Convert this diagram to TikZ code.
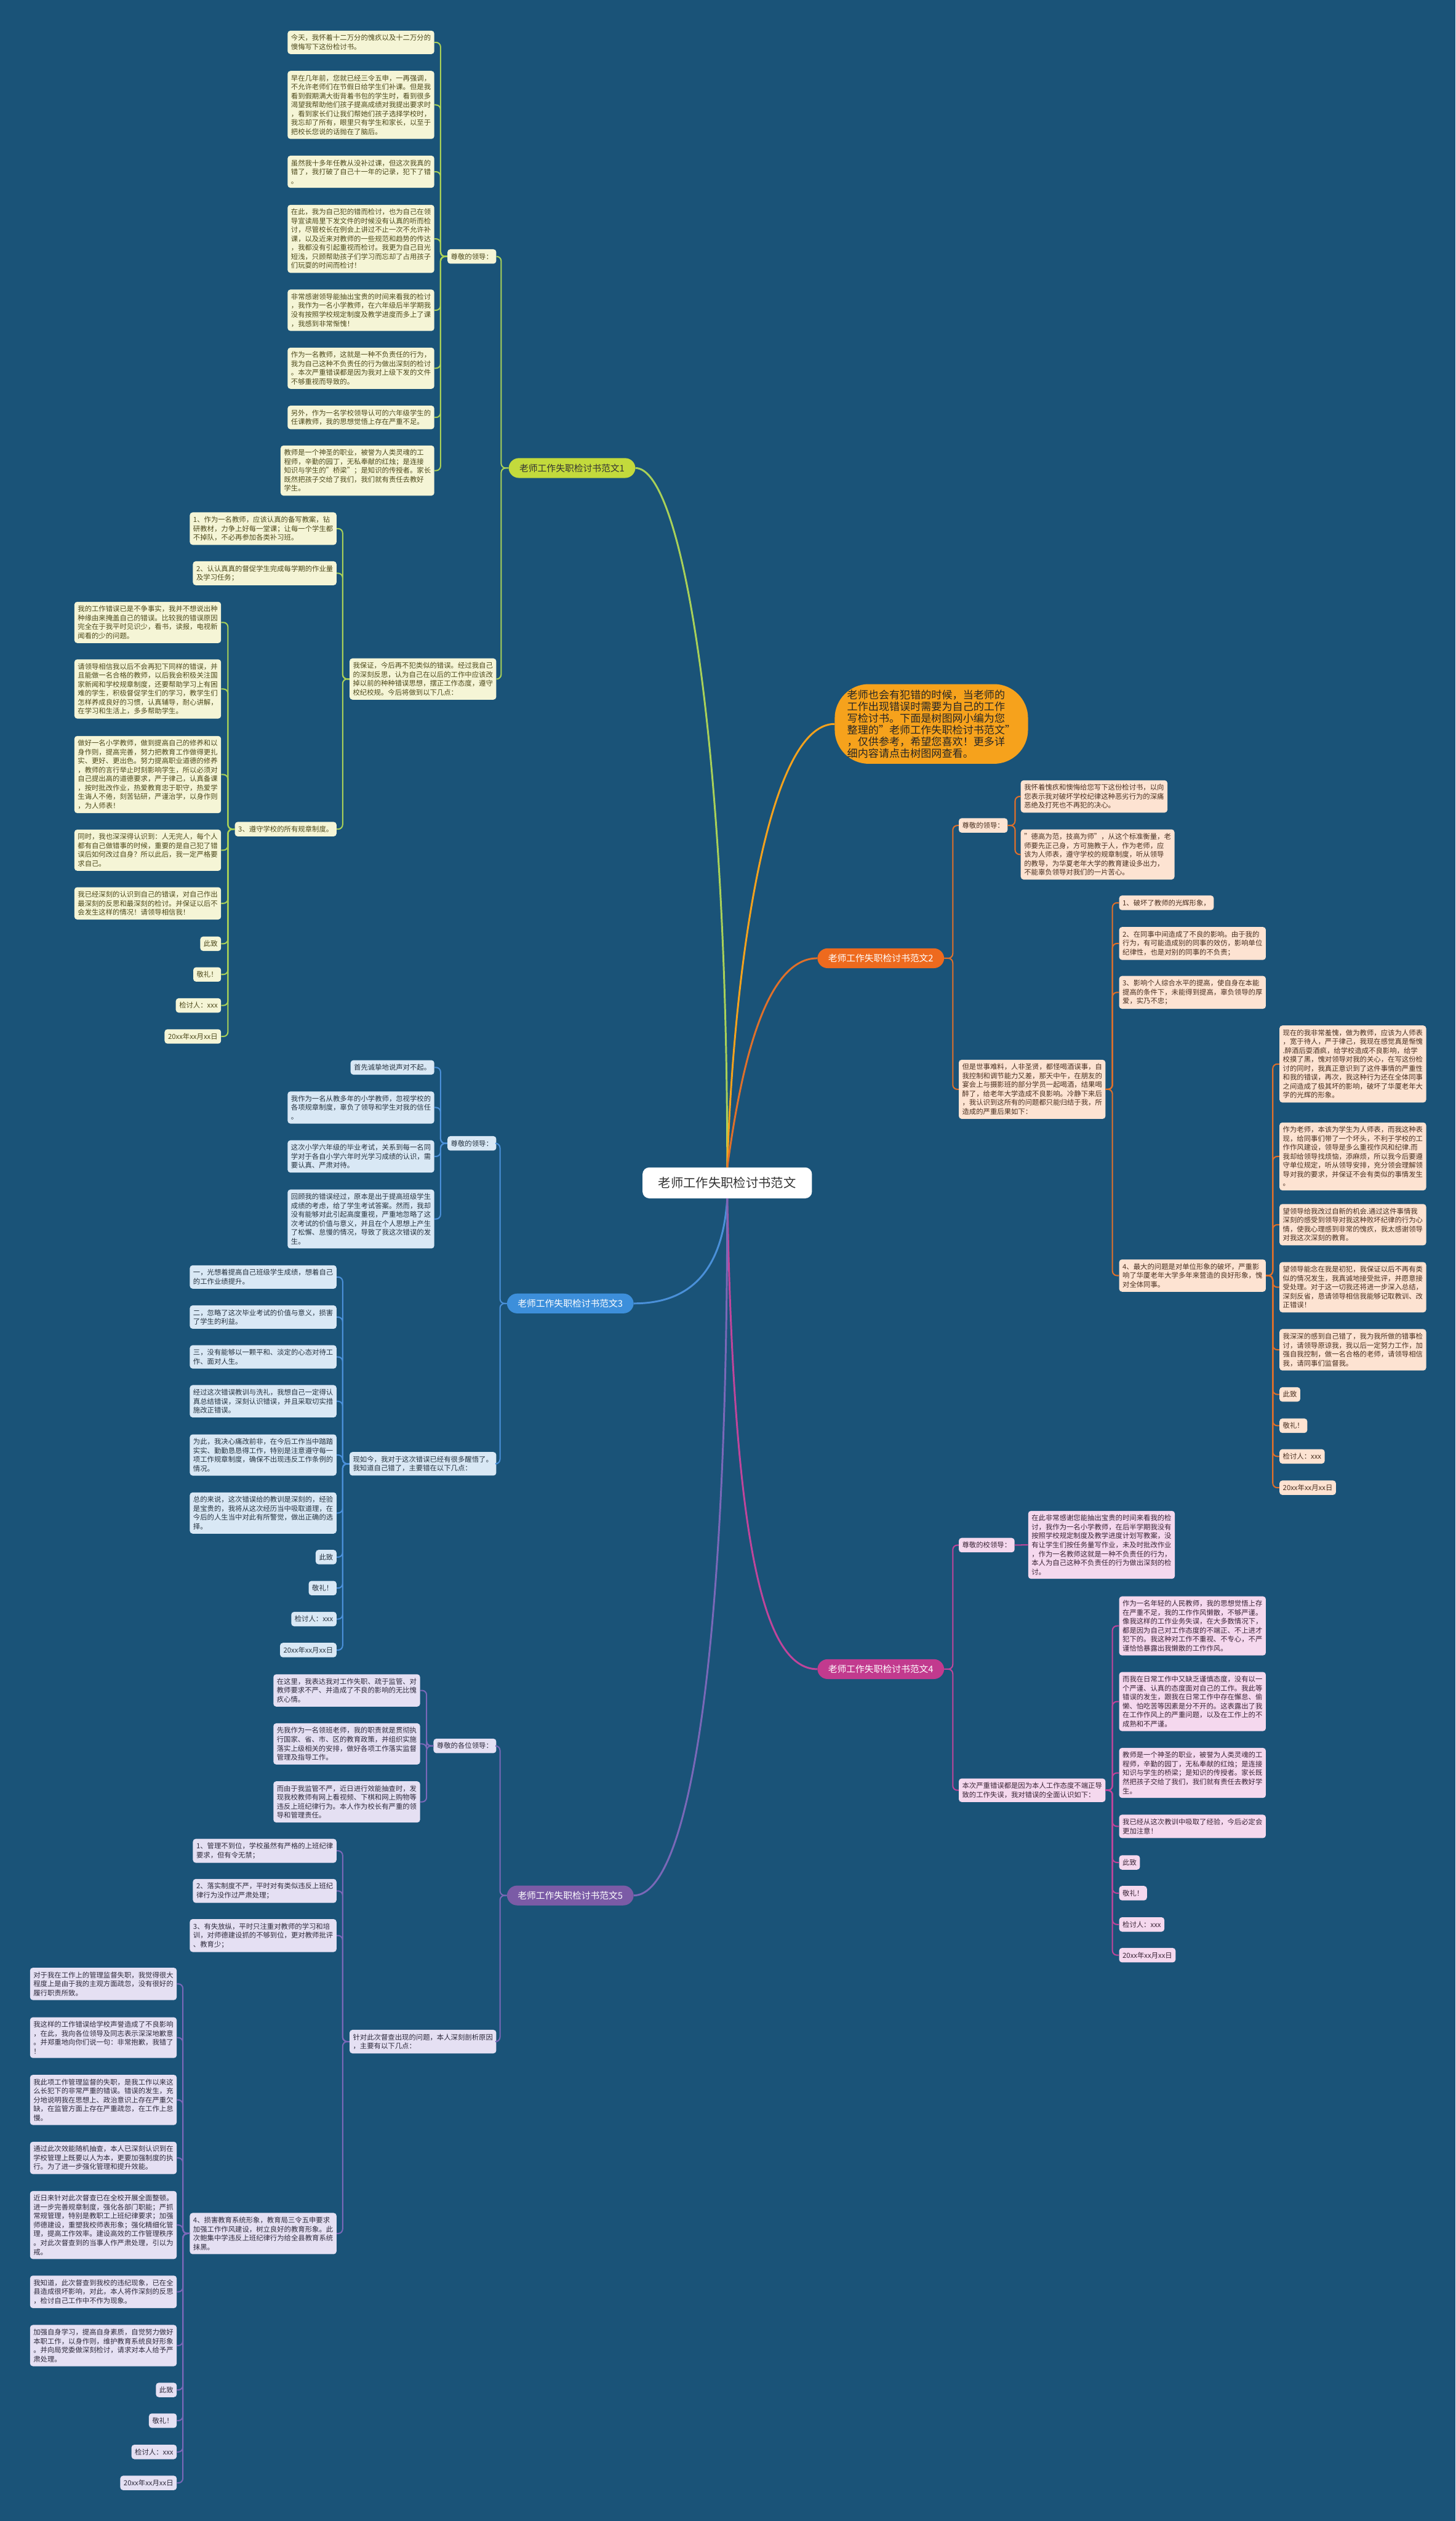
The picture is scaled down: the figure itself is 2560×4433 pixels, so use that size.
\documentclass[tikz,border=0pt]{standalone}
\usepackage{fontspec}
\setmainfont{Noto Sans CJK SC}
\usetikzlibrary{positioning}

\definecolor{bgblue}{HTML}{1A5378}
\definecolor{creamA}{HTML}{F5F5D6}
\definecolor{textA}{HTML}{4E4A1C}
\definecolor{lineA}{HTML}{A9D158}
\definecolor{tagA}{HTML}{C3DA3C}
\definecolor{paleB}{HTML}{FDE3D2}
\definecolor{textB}{HTML}{4A3020}
\definecolor{lineB}{HTML}{E0702A}
\definecolor{tagB}{HTML}{EE6A1E}
\definecolor{paleC}{HTML}{D9E8F5}
\definecolor{textC}{HTML}{263340}
\definecolor{lineC}{HTML}{4A90D9}
\definecolor{tagC}{HTML}{3D8FDB}
\definecolor{paleD}{HTML}{F5D8EE}
\definecolor{textD}{HTML}{3A2436}
\definecolor{lineD}{HTML}{C0459B}
\definecolor{tagD}{HTML}{C23A8E}
\definecolor{paleE}{HTML}{E5E0F3}
\definecolor{textE}{HTML}{2E2A3C}
\definecolor{lineE}{HTML}{7A68B8}
\definecolor{tagE}{HTML}{7B5BA6}
\definecolor{bubble}{HTML}{F6A21C}

\newcommand\leaffont{\fontsize{12.3}{15.7}\selectfont}

\tikzset{
  leaf/.style={rounded corners=5pt, align=left, inner xsep=6pt, inner ysep=7pt, font=\leaffont},
  leafA/.style={leaf, fill=creamA, text=textA},
  leafB/.style={leaf, fill=paleB, text=textB},
  leafC/.style={leaf, fill=paleC, text=textC},
  leafD/.style={leaf, fill=paleD, text=textD},
  leafE/.style={leaf, fill=paleE, text=textE},
  tag/.style={rounded corners=18pt, inner xsep=19pt, inner ysep=10pt, font=\fontsize{16}{18}\selectfont, text=white},
  wire/.style={line width=2.2pt, rounded corners=8pt},
  trunk/.style={line width=3.2pt},
}

\begin{document}
\begin{tikzpicture}[x=1pt,y=-1pt]
\fill[bgblue] (0,0) rectangle (2560,4433);
\useasboundingbox (0,0) rectangle (2560,4433);

% centre and intro
\node[fill=white, rounded corners=12pt, inner xsep=28pt, inner ysep=17pt, font=\fontsize{22}{24}\selectfont, text=black!80] (ctr) at (1279,2080) {老师工作失职检讨书范文};
\node[fill=bubble, rounded corners=60pt, align=left, inner xsep=22pt, inner ysep=10pt, font=\fontsize{18.5}{20.6}\selectfont, text=black!85] (bub) at (1638,1273) {老师也会有犯错的时候，当老师的\\工作出现错误时需要为自己的工作\\写检讨书。下面是树图网小编为您\\整理的"老师工作失职检讨书范文"\\，仅供参考，希望您喜欢！更多详\\细内容请点击树图网查看。};

% branch tags
\node[tag, fill=tagA, text=black!80] (b1) at (1006,823) {老师工作失职检讨书范文1};
\node[tag, fill=tagB] (b2) at (1549,1685) {老师工作失职检讨书范文2};
\node[tag, fill=tagC] (b3) at (1003,2292) {老师工作失职检讨书范文3};
\node[tag, fill=tagD] (b4) at (1549,2935) {老师工作失职检讨书范文4};
\node[tag, fill=tagE] (b5) at (1003,3333) {老师工作失职检讨书范文5};

\draw[trunk, lineA] (ctr.north) .. controls (1279,1300) and (1200,823) .. (b1.east);
\draw[trunk, bubble] (ctr.north) .. controls (1290,1700) and (1350,1273) .. (bub.west);
\draw[trunk, lineB] (ctr.north) .. controls (1300,1900) and (1340,1685) .. (b2.west);
\draw[trunk, lineC] (ctr.south) .. controls (1270,2250) and (1200,2292) .. (b3.east);
\draw[trunk, lineD] (ctr.south) .. controls (1290,2700) and (1340,2935) .. (b4.west);
\draw[trunk, lineE] (ctr.south) .. controls (1279,3000) and (1200,3333) .. (b5.east);

% branch 1
\node[leafA, anchor=east] (b1a) at (873,451) {尊敬的领导：};
\node[leafA, anchor=east] (b1a1) at (764,74.5) {今天，我怀着十二万分的愧疚以及十二万分的\\懊悔写下这份检讨书。};
\node[leafA, anchor=east] (b1a2) at (764,184.5) {早在几年前，您就已经三令五申，一再强调，\\不允许老师们在节假日给学生们补课。但是我\\看到假期满大街背着书包的学生时，看到很多\\渴望我帮助他们孩子提高成绩对我提出要求时\\，看到家长们让我们帮她们孩子选择学校时，\\我忘却了所有，眼里只有学生和家长，以至于\\把校长您说的话抛在了脑后。};
\node[leafA, anchor=east] (b1a3) at (764,302) {虽然我十多年任教从没补过课，但这次我真的\\错了，我打破了自己十一年的记录，犯下了错\\。};
\node[leafA, anchor=east] (b1a4) at (764,420) {在此，我为自己犯的错而检讨，也为自己在领\\导宣读局里下发文件的时候没有认真的听而检\\讨，尽管校长在例会上讲过不止一次不允许补\\课，以及近来对教师的一些规范和趋势的传达\\，我都没有引起重视而检讨。我更为自己目光\\短浅，只顾帮助孩子们学习而忘却了占用孩子\\们玩耍的时间而检讨！};
\node[leafA, anchor=east] (b1a5) at (764,545.5) {非常感谢领导能抽出宝贵的时间来看我的检讨\\，我作为一名小学教师，在六年级后半学期我\\没有按照学校规定制度及教学进度而多上了课\\，我感到非常惭愧！};
\node[leafA, anchor=east] (b1a6) at (764,647.5) {作为一名教师，这就是一种不负责任的行为，\\我为自己这种不负责任的行为做出深刻的检讨\\。本次严重错误都是因为我对上级下发的文件\\不够重视而导致的。};
\node[leafA, anchor=east] (b1a7) at (764,734) {另外，作为一名学校领导认可的六年级学生的\\任课教师，我的思想觉悟上存在严重不足。};
\node[leafA, anchor=east] (b1a8) at (764,827.5) {教师是一个神圣的职业，被誉为人类灵魂的工\\程师，辛勤的园丁，无私奉献的红烛；是连接\\知识与学生的"桥梁"；是知识的传授者。家长\\既然把孩子交给了我们，我们就有责任去教好\\学生。};
\node[leafA, anchor=east] (b1b) at (873,1194) {我保证，今后再不犯类似的错误。经过我自己\\的深刻反思，认为自己在以后的工作中应该改\\掉以前的种种错误思想，摆正工作态度，遵守\\校纪校规。今后将做到以下几点：};
\node[leafA, anchor=east] (b1b1) at (592,929.5) {1、作为一名教师，应该认真的备写教案，钻\\研教材，力争上好每一堂课；让每一个学生都\\不掉队，不必再参加各类补习班。};
\node[leafA, anchor=east] (b1b2) at (592,1008) {2、认认真真的督促学生完成每学期的作业量\\及学习任务；};
\node[leafA, anchor=east] (b1b3) at (592,1458) {3、遵守学校的所有规章制度。};
\node[leafA, anchor=east] (b1c1) at (389,1094.5) {我的工作错误已是不争事实，我并不想说出种\\种缘由来掩盖自己的错误。比较我的错误原因\\完全在于我平时见识少，看书，读报，电视新\\闻看的少的问题。};
\node[leafA, anchor=east] (b1c2) at (389,1211.5) {请领导相信我以后不会再犯下同样的错误，并\\且能做一名合格的教师，以后我会积极关注国\\家新闻和学校规章制度，还要帮助学习上有困\\难的学生，积极督促学生们的学习，教学生们\\怎样养成良好的习惯，认真辅导，耐心讲解，\\在学习和生活上，多多帮助学生。};
\node[leafA, anchor=east] (b1c3) at (389,1362) {做好一名小学教师，做到提高自己的修养和以\\身作则，提高完善，努力把教育工作做得更扎\\实、更好、更出色。努力提高职业道德的修养\\，教师的言行举止时刻影响学生，所以必须对\\自己提出高的道德要求，严于律己，认真备课\\，按时批改作业，热爱教育忠于职守，热爱学\\生诲人不倦，刻苦钻研，严谨治学，以身作则\\，为人师表！};
\node[leafA, anchor=east] (b1c4) at (389,1495) {同时，我也深深得认识到：人无完人，每个人\\都有自己做错事的时候，重要的是自己犯了错\\误后如何改过自身？所以此后，我一定严格要\\求自己。};
\node[leafA, anchor=east] (b1c5) at (389,1588.5) {我已经深刻的认识到自己的错误，对自己作出\\最深刻的反思和最深刻的检讨。并保证以后不\\会发生这样的情况！请领导相信我！};
\node[leafA, anchor=east] (b1c6) at (389,1659.5) {此致};
\node[leafA, anchor=east] (b1c7) at (389,1713.5) {敬礼！};
\node[leafA, anchor=east] (b1c8) at (389,1768) {检讨人：xxx};
\node[leafA, anchor=east] (b1c9) at (389,1822.5) {20xx年xx月xx日};

\foreach \c in {b1a,b1b} \draw[wire, lineA] (b1.west) -- ++(-13,0) |- (\c.east);
\foreach \c in {b1a1,b1a2,b1a3,b1a4,b1a5,b1a6,b1a7,b1a8} \draw[wire, lineA] (b1a.west) -- ++(-12,0) |- (\c.east);
\foreach \c in {b1b1,b1b2,b1b3} \draw[wire, lineA] (b1b.west) -- ++(-12,0) |- (\c.east);
\foreach \c in {b1c1,b1c2,b1c3,b1c4,b1c5,b1c6,b1c7,b1c8,b1c9} \draw[wire, lineA] (b1b3.west) -- ++(-12,0) |- (\c.east);

% branch 2
\node[leafB, anchor=west] (b2a) at (1686,1451.5) {尊敬的领导：};
\node[leafB, anchor=west] (b2a1) at (1795,1400.5) {我怀着愧疚和懊悔给您写下这份检讨书，以向\\您表示我对破坏学校纪律这种恶劣行为的深痛\\恶绝及打死也不再犯的决心。};
\node[leafB, anchor=west] (b2a2) at (1795,1502.5) {"德高为范，技高为师"，从这个标准衡量，老\\师要先正己身，方可施教于人，作为老师，应\\该为人师表，遵守学校的规章制度，听从领导\\的教导，为华夏老年大学的教育建设多出力，\\不能辜负领导对我们的一片苦心。};
\node[leafB, anchor=west] (b2b) at (1686,1915.5) {但是世事难料，人非圣贤，都怪喝酒误事，自\\我控制和调节能力又差，那天中午，在朋友的\\宴会上与摄影班的部分学员一起喝酒，结果喝\\醉了，给老年大学造成不良影响。冷静下来后\\，我认识到这所有的问题都只能归结于我，所\\造成的严重后果如下：};
\node[leafB, anchor=west] (b2b1) at (1968,1587.5) {1、破坏了教师的光辉形象，};
\node[leafB, anchor=west] (b2b2) at (1968,1659) {2、在同事中间造成了不良的影响。由于我的\\行为，有可能造成别的同事的效仿，影响单位\\纪律性，也是对别的同事的不负责；};
\node[leafB, anchor=west] (b2b3) at (1968,1745) {3、影响个人综合水平的提高，使自身在本能\\提高的条件下，未能得到提高，辜负领导的厚\\爱，实乃不忠；};
\node[leafB, anchor=west] (b2b4) at (1968,2243) {4、最大的问题是对单位形象的破坏，严重影\\响了华厦老年大学多年来营造的良好形象，愧\\对全体同事。};
\node[leafB, anchor=west] (b2c1) at (2250,1871) {现在的我非常羞愧，做为教师，应该为人师表\\，宽于待人，严于律己，我现在感觉真是惭愧\\.醉酒后耍酒疯，给学校造成不良影响，给学\\校摸了黑，愧对领导对我的关心，在写这份检\\讨的同时，我真正意识到了这件事情的严重性\\和我的错误，再次，我这种行为还在全体同事\\之间造成了极其坏的影响，破坏了华厦老年大\\学的光辉的形象。};
\node[leafB, anchor=west] (b2c2) at (2250,2033.5) {作为老师，本该为学生为人师表，而我这种表\\现，给同事们带了一个坏头，不利于学校的工\\作作风建设，领导是多么重视作风和纪律.而\\我却给领导找烦恼，添麻烦，所以我今后要遵\\守单位规定，听从领导安排，充分领会理解领\\导对我的要求，并保证不会有类似的事情发生\\。};
\node[leafB, anchor=west] (b2c3) at (2250,2153.5) {望领导给我改过自新的机会.通过这件事情我\\深刻的感受到领导对我这种败坏纪律的行为心\\情，使我心理感到非常的愧疚，我太感谢领导\\对我这次深刻的教育。};
\node[leafB, anchor=west] (b2c4) at (2250,2263.5) {望领导能念在我是初犯，我保证以后不再有类\\似的情况发生，我真诚地接受批评，并愿意接\\受处理。对于这一切我还将进一步深入总结，\\深刻反省，恳请领导相信我能够记取教训、改\\正错误！};
\node[leafB, anchor=west] (b2c5) at (2250,2373.5) {我深深的感到自己错了，我为我所做的错事检\\讨，请领导原谅我，我以后一定努力工作，加\\强自我控制，做一名合格的老师，请领导相信\\我，请同事们监督我。};
\node[leafB, anchor=west] (b2c6) at (2250,2452) {此致};
\node[leafB, anchor=west] (b2c7) at (2250,2507) {敬礼！};
\node[leafB, anchor=west] (b2c8) at (2250,2561) {检讨人：xxx};
\node[leafB, anchor=west] (b2c9) at (2250,2616) {20xx年xx月xx日};

\foreach \c in {b2a,b2b} \draw[wire, lineB] (b2.east) -- ++(15,0) |- (\c.west);
\foreach \c in {b2a1,b2a2} \draw[wire, lineB] (b2a.east) -- ++(13,0) |- (\c.west);
\foreach \c in {b2b1,b2b2,b2b3,b2b4} \draw[wire, lineB] (b2b.east) -- ++(12,0) |- (\c.west);
\foreach \c in {b2c1,b2c2,b2c3,b2c4,b2c5,b2c6,b2c7,b2c8,b2c9} \draw[wire, lineB] (b2b4.east) -- ++(12,0) |- (\c.west);

% branch 3
\node[leafC, anchor=east] (b3a) at (873,2010.5) {尊敬的领导：};
\node[leafC, anchor=east] (b3a1) at (764,1877) {首先诚挚地说声对不起。};
\node[leafC, anchor=east] (b3a2) at (764,1947.5) {我作为一名从教多年的小学教师，忽视学校的\\各项规章制度，辜负了领导和学生对我的信任\\。};
\node[leafC, anchor=east] (b3a3) at (764,2033.5) {这次小学六年级的毕业考试，关系到每一名同\\学对于各自小学六年时光学习成绩的认识，需\\要认真、严肃对待。};
\node[leafC, anchor=east] (b3a4) at (764,2143.5) {回顾我的错误经过，原本是出于提高班级学生\\成绩的考虑，给了学生考试答案。然而，我却\\没有能够对此引起高度重视，严重地忽略了这\\次考试的价值与意义，并且在个人思想上产生\\了松懈、怠慢的情况，导致了我这次错误的发\\生。};
\node[leafC, anchor=east] (b3b) at (873,2574) {现如今，我对于这次错误已经有很多醒悟了。\\我知道自己错了，主要错在以下几点：};
\node[leafC, anchor=east] (b3b1) at (592,2245.5) {一，光想着提高自己班级学生成绩，想着自己\\的工作业绩提升。};
\node[leafC, anchor=east] (b3b2) at (592,2316) {二，忽略了这次毕业考试的价值与意义，损害\\了学生的利益。};
\node[leafC, anchor=east] (b3b3) at (592,2386) {三，没有能够以一颗平和、淡定的心态对待工\\作、面对人生。};
\node[leafC, anchor=east] (b3b4) at (592,2464) {经过这次错误教训与洗礼，我想自己一定得认\\真总结错误，深刻认识错误，并且采取切实措\\施改正错误。};
\node[leafC, anchor=east] (b3b5) at (592,2558.5) {为此，我决心痛改前非，在今后工作当中踏踏\\实实、勤勤恳恳得工作，特别是注意遵守每一\\项工作规章制度，确保不出现违反工作条例的\\情况。};
\node[leafC, anchor=east] (b3b6) at (592,2660.5) {总的来说，这次错误给的教训是深刻的，经验\\是宝贵的，我将从这次经历当中吸取道理，在\\今后的人生当中对此有所警觉，做出正确的选\\择。};
\node[leafC, anchor=east] (b3b7) at (592,2738) {此致};
\node[leafC, anchor=east] (b3b8) at (592,2792.5) {敬礼！};
\node[leafC, anchor=east] (b3b9) at (592,2847) {检讨人：xxx};
\node[leafC, anchor=east] (b3b10) at (592,2901.5) {20xx年xx月xx日};

\foreach \c in {b3a,b3b} \draw[wire, lineC] (b3.west) -- ++(-12,0) |- (\c.east);
\foreach \c in {b3a1,b3a2,b3a3,b3a4} \draw[wire, lineC] (b3a.west) -- ++(-12,0) |- (\c.east);
\foreach \c in {b3b1,b3b2,b3b3,b3b4,b3b5,b3b6,b3b7,b3b8,b3b9,b3b10} \draw[wire, lineC] (b3b.west) -- ++(-12,0) |- (\c.east);

% branch 4
\node[leafD, anchor=west] (b4a) at (1686,2717) {尊敬的校领导：};
\node[leafD, anchor=west] (b4a1) at (1808,2716.5) {在此非常感谢您能抽出宝贵的时间来看我的检\\讨，我作为一名小学教师，在后半学期我没有\\按照学校规定制度及教学进度计划写教案，没\\有让学生们按任务量写作业，未及时批改作业\\，作为一名教师这就是一种不负责任的行为，\\本人为自己这种不负责任的行为做出深刻的检\\讨。};
\node[leafD, anchor=west] (b4b) at (1686,3148) {本次严重错误都是因为本人工作态度不端正导\\致的工作失误，我对错误的全面认识如下：};
\node[leafD, anchor=west] (b4b1) at (1968,2859) {作为一名年轻的人民教师，我的思想觉悟上存\\在严重不足，我的工作作风懒散，不够严谨。\\像我这样的工作业务失误，在大多数情况下，\\都是因为自己对工作态度的不端正、不上进才\\犯下的。我这种对工作不重视、不专心，不严\\谨恰恰暴露出我懒散的工作作风。};
\node[leafD, anchor=west] (b4b2) at (1968,2992) {而我在日常工作中又缺乏谨慎态度，没有以一\\个严谨、认真的态度面对自己的工作。我此等\\错误的发生，跟我在日常工作中存在懈怠、偷\\懒、怕吃苦等因素是分不开的。这表露出了我\\在工作作风上的严重问题，以及在工作上的不\\成熟和不严谨。};
\node[leafD, anchor=west] (b4b3) at (1968,3117.5) {教师是一个神圣的职业，被誉为人类灵魂的工\\程师，辛勤的园丁，无私奉献的红烛；是连接\\知识与学生的桥梁；是知识的传授者。家长既\\然把孩子交给了我们，我们就有责任去教好学\\生。};
\node[leafD, anchor=west] (b4b4) at (1968,3211.5) {我已经从这次教训中吸取了经验，今后必定会\\更加注意！};
\node[leafD, anchor=west] (b4b5) at (1968,3275) {此致};
\node[leafD, anchor=west] (b4b6) at (1968,3329) {敬礼！};
\node[leafD, anchor=west] (b4b7) at (1968,3384) {检讨人：xxx};
\node[leafD, anchor=west] (b4b8) at (1968,3438) {20xx年xx月xx日};

\foreach \c in {b4a,b4b} \draw[wire, lineD] (b4.east) -- ++(15,0) |- (\c.west);
\draw[wire, lineD] (b4a.east) -- (b4a1.west);
\foreach \c in {b4b1,b4b2,b4b3,b4b4,b4b5,b4b6,b4b7,b4b8} \draw[wire, lineD] (b4b.east) -- ++(12,0) |- (\c.west);

% branch 5
\node[leafE, anchor=east] (b5a) at (873,3070) {尊敬的各位领导：};
\node[leafE, anchor=east] (b5a1) at (739,2972.5) {在这里，我表达我对工作失职、疏于监管、对\\教师要求不严、并造成了不良的影响的无比愧\\疚心情。};
\node[leafE, anchor=east] (b5a2) at (739,3066.5) {先我作为一名领班老师，我的职责就是贯彻执\\行国家、省、市、区的教育政策，并组织实施\\落实上级相关的安排，做好各项工作落实监督\\管理及指导工作。};
\node[leafE, anchor=east] (b5a3) at (739,3168.5) {而由于我监管不严，近日进行效能抽查时，发\\现我校教师有网上看视频、下棋和网上购物等\\违反上班纪律行为。本人作为校长有严重的领\\导和管理责任。};
\node[leafE, anchor=east] (b5b) at (873,3590) {针对此次督查出现的问题，本人深刻剖析原因\\，主要有以下几点：};
\node[leafE, anchor=east] (b5b1) at (592,3254.5) {1、管理不到位，学校虽然有严格的上班纪律\\要求，但有令无禁；};
\node[leafE, anchor=east] (b5b2) at (592,3325) {2、落实制度不严，平时对有类似违反上班纪\\律行为没作过严肃处理；};
\node[leafE, anchor=east] (b5b3) at (592,3403.5) {3、有失放纵，平时只注重对教师的学习和培\\训，对师德建设抓的不够到位，更对教师批评\\、教育少；};
\node[leafE, anchor=east] (b5b4) at (592,3927.5) {4、损害教育系统形象，教育局三令五申要求\\加强工作作风建设，树立良好的教育形象。此\\次鲍集中学违反上班纪律行为给全县教育系统\\抹黑。};
\node[leafE, anchor=east] (b5c1) at (311,3488.5) {对于我在工作上的管理监督失职，我觉得很大\\程度上是由于我的主观方面疏忽，没有很好的\\履行职责所致。};
\node[leafE, anchor=east] (b5c2) at (311,3583) {我这样的工作错误给学校声誉造成了不良影响\\，在此，我向各位领导及同志表示深深地歉意\\。并郑重地向你们说一句：非常抱歉，我错了\\！};
\node[leafE, anchor=east] (b5c3) at (311,3692.5) {我此项工作管理监督的失职，是我工作以来这\\么长犯下的非常严重的错误。错误的发生，充\\分地说明我在思想上、政治意识上存在严重欠\\缺，在监管方面上存在严重疏忽，在工作上怠\\慢。};
\node[leafE, anchor=east] (b5c4) at (311,3794.5) {通过此次效能随机抽查，本人已深刻认识到在\\学校管理上既要以人为本，更要加强制度的执\\行。为了进一步强化管理和提升效能。};
\node[leafE, anchor=east] (b5c5) at (311,3912.5) {近日来针对此次督查已在全校开展全面整顿。\\进一步完善规章制度，强化各部门职能；严抓\\常规管理，特别是教职工上班纪律要求；加强\\师德建设，重塑我校师表形象；强化精细化管\\理，提高工作效率。建设高效的工作管理秩序\\。对此次督查到的当事人作严肃处理，引以为\\戒。};
\node[leafE, anchor=east] (b5c6) at (311,4030) {我知道，此次督查到我校的违纪现象，已在全\\县造成很坏影响，对此，本人将作深刻的反思\\，检讨自己工作中不作为现象。};
\node[leafE, anchor=east] (b5c7) at (311,4124.5) {加强自身学习，提高自身素质，自觉努力做好\\本职工作，以身作则，维护教育系统良好形象\\。并向局党委做深刻检讨，请求对本人给予严\\肃处理。};
\node[leafE, anchor=east] (b5c8) at (311,4202.5) {此致};
\node[leafE, anchor=east] (b5c9) at (311,4256.5) {敬礼！};
\node[leafE, anchor=east] (b5c10) at (311,4311.5) {检讨人：xxx};
\node[leafE, anchor=east] (b5c11) at (311,4366) {20xx年xx月xx日};

\foreach \c in {b5a,b5b} \draw[wire, lineE] (b5.west) -- ++(-12,0) |- (\c.east);
\foreach \c in {b5a1,b5a2,b5a3} \draw[wire, lineE] (b5a.west) -- ++(-12,0) |- (\c.east);
\foreach \c in {b5b1,b5b2,b5b3,b5b4} \draw[wire, lineE] (b5b.west) -- ++(-12,0) |- (\c.east);
\foreach \c in {b5c1,b5c2,b5c3,b5c4,b5c5,b5c6,b5c7,b5c8,b5c9,b5c10,b5c11} \draw[wire, lineE] (b5b4.west) -- ++(-12,0) |- (\c.east);
\end{tikzpicture}
\end{document}
